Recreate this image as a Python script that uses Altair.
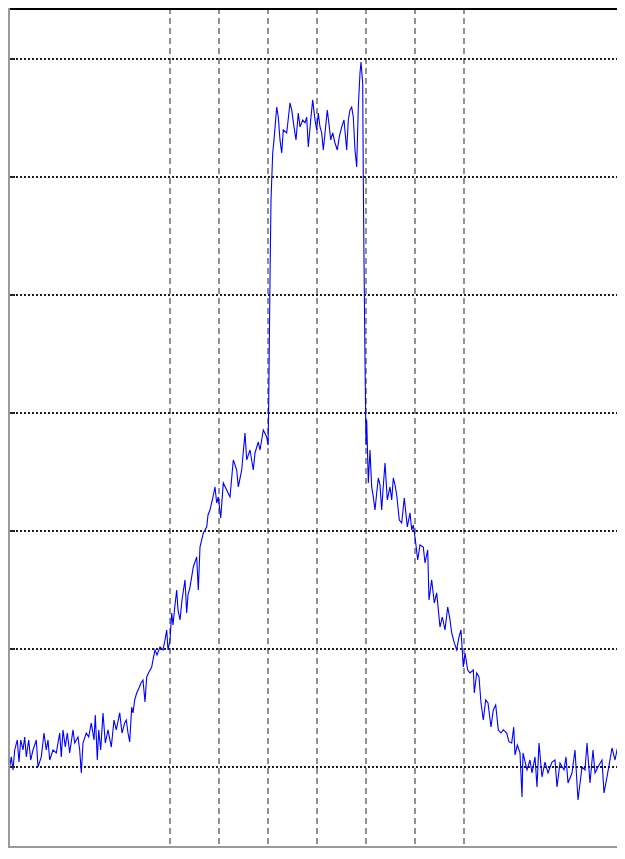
import altair as alt
import pandas as pd

# frequency bin index (x) and level in dB (y)
bins = [0, 1.7, 3.3, 5, 6.7, 9.3, 11, 12.7, 15, 16.7, 18.3, 20.7, 22.7, 25, 28.3, 30, 33.3, 36, 38.3, 40,
        41.7, 45, 48.3, 51.7, 53.3, 55, 57.3, 59.3, 61.7, 65, 66.7, 70, 71.7, 73.3, 75, 78.3, 80.7, 83.3, 86, 87.3,
        89.3, 90.7, 92.7, 95, 97.3, 100, 103.3, 106, 108.3, 111.7, 114, 116.7, 118.3, 120, 121.7, 123.7, 125, 126.7, 128.7, 131,
        133, 135, 137, 138.7, 141, 143.7, 145, 147, 149, 152, 155, 157, 158.7, 160, 162, 163.7, 165, 167, 168.7, 170,
        172, 174, 177, 178.7, 180, 182, 185.3, 188.7, 190.3, 192, 195.3, 198.7, 200, 202, 205, 207, 208.7, 210.3, 212.7, 215.3,
        218.7, 222, 225.3, 228.7, 230.3, 233.7, 237, 238.7, 242, 245.3, 247, 250.3, 252, 255.3, 258.7, 260, 260.5, 262, 263, 264.7,
        266, 268.7, 270.3, 272, 273.7, 275.3, 278.7, 282, 283.7, 286, 288, 290.3, 292, 294.7, 297, 298.7, 300.3, 302.7, 304.7, 307,
        308.7, 310.3, 312, 313.7, 315.3, 317, 319.3, 321.3, 322.7, 324.7, 327, 329.3, 331.3, 333.7, 336, 338.7, 340.3, 342, 343.7, 345.3,
        347, 348.7, 350.3, 352, 353, 354.7, 355.3, 356, 357, 358, 358.7, 359.3, 360.3, 362, 363.7, 365, 367, 368.5, 370.3, 372,
        373.7, 375, 377, 379.3, 382, 383.7, 385.3, 387, 388.7, 391.3, 393.7, 396.3, 399.3, 402, 403.7, 405.3, 407, 409.7, 412, 415.3,
        417, 419.7, 421, 423.7, 426.3, 428.7, 432, 434.3, 437, 439.7, 442, 443.7, 446.3, 448.7, 451, 453, 455.3, 457, 459.7, 462,
        465.3, 466.3, 468.7, 471, 473, 475.3, 477.7, 480, 483, 485.3, 487.7, 490.3, 493, 495.3, 498.7, 501, 503.7, 505.7, 507, 509.3,
        512, 514, 515, 519, 522, 524, 527, 529, 531, 534, 537, 540, 544, 547, 549, 552, 556, 558, 560, 564,
        567, 570, 574, 577, 579, 582, 585, 587, 590, 594, 596, 599, 604, 607, 609, 611, 614, 616]

level_db = [2.29, 0.0, 0.85, -0.25, 1.44, 2.29, 0.42, 2.29, 1.44, 2.54, 0.85, 2.29, 0.59, 1.44, 2.29, 0.0, 0.85, 2.88, 1.44, 2.29,
            0.59, 1.44, 1.19, 2.88, 0.85, 3.14, 1.69, 2.88, 1.19, 3.14, 2.03, 2.54, 1.44, -0.51, 2.03, 2.88, 2.54, 3.73, 2.29, 4.41,
            0.59, 3.14, 1.44, 4.58, 2.03, 3.14, 1.69, 3.98, 3.14, 4.58, 2.88, 3.73, 3.98, 2.88, 2.12, 5.08, 4.58, 5.68, 6.27, 6.69,
            7.12, 7.37, 5.51, 7.63, 8.05, 8.47, 9.07, 9.92, 9.49, 10.17, 9.92, 10.76, 11.61, 9.92, 10.76, 13.05, 12.03, 13.73, 15.0, 13.31,
            12.46, 14.15, 15.85, 13.05, 14.58, 15.25, 16.95, 17.80, 15.0, 18.64, 19.83, 20.34, 21.36, 21.78, 22.88, 23.73, 22.37, 22.88, 21.10, 24.07,
            23.47, 22.88, 26.02, 25.17, 23.73, 25.17, 28.31, 26.02, 26.86, 25.17, 26.61, 27.54, 26.86, 28.56, 27.97, 27.29, 29.41, 41.27, 48.05, 52.03,
            53.14, 55.93, 55.08, 53.14, 52.03, 53.98, 53.73, 56.27, 55.68, 54.24, 53.14, 55.42, 54.24, 54.83, 54.58, 55.08, 52.54, 54.83, 56.53, 54.83,
            53.98, 55.42, 54.24, 53.73, 52.29, 53.73, 55.68, 54.24, 53.14, 53.73, 52.88, 52.29, 53.39, 54.24, 54.83, 52.29, 54.83, 55.68, 55.93, 55.08,
            52.29, 50.85, 55.93, 58.81, 59.75, 57.97, 49.75, 42.97, 34.49, 27.29, 29.41, 27.46, 24.07, 26.86, 23.73, 23.05, 21.78, 23.05, 24.49, 23.90,
            21.78, 23.47, 25.76, 22.63, 23.73, 22.63, 24.49, 23.90, 23.05, 20.93, 20.68, 22.80, 20.34, 21.53, 20.08, 20.51, 19.49, 17.54, 18.81, 18.64,
            17.29, 18.39, 14.15, 15.85, 13.90, 14.75, 11.86, 12.71, 11.61, 13.56, 12.46, 11.36, 10.51, 9.92, 11.02, 11.61, 8.47, 9.66, 8.22, 7.97,
            8.22, 6.27, 7.97, 7.63, 5.42, 3.98, 5.68, 5.42, 3.39, 4.83, 5.25, 3.14, 2.88, 3.14, 2.88, 2.12, 2.03, 3.39, 1.02, 1.86,
            1.19, -2.54, 1.19, -0.25, 0.59, -0.51, 0.85, -1.69, 2.03, -0.85, 0.42, -0.51, 0.42, 0.59, -1.69, 0.34, -0.25, 0.85, -1.36, -0.51,
            1.44, -2.80, 0.0, -0.25, 2.03, -1.36, 1.44, -0.51, 0.0, 0.59, -2.20, -0.85, 1.61, 0.59, 1.44, 2.03, 1.69, 1.19]

grid_db = [0, 10, 20, 30, 40, 50, 60]
grid_bins = [162, 211, 260, 309, 358, 407, 456]

W, H = 609, 840
PX_PER_DB = 11.8
Y_TOP = 64.32
Y_BOT = Y_TOP - H / PX_PER_DB

df = pd.DataFrame({"bin": bins, "level": level_db})
ygrid = pd.DataFrame({"level": grid_db})
xgrid = pd.DataFrame({"bin": grid_bins})
one = pd.DataFrame({"a": [0]})

xs = alt.Scale(domain=[0, W], nice=False, zero=False)
ys = alt.Scale(domain=[Y_BOT, Y_TOP], nice=False, zero=False)

vgrid = alt.Chart(xgrid).mark_rule(color="#6e6e6e", strokeWidth=1.5, strokeDash=[6, 4]).encode(
    x=alt.X("bin:Q", scale=xs, axis=None), y=alt.value(0), y2=alt.value(H))
hgrid = alt.Chart(ygrid).mark_rule(color="#1e1e1e", strokeWidth=2, strokeDash=[2, 2]).encode(
    y=alt.Y("level:Q", scale=ys, axis=None), x=alt.value(0), x2=alt.value(W))

line = alt.Chart(df).mark_line(color="#0000ff", strokeWidth=1.1, clip=True).encode(
    x=alt.X("bin:Q", scale=xs, axis=None),
    y=alt.Y("level:Q", scale=ys, axis=None),
)

left_ticks = alt.Chart(ygrid).mark_rule(color="#222222", strokeWidth=2).encode(
    y=alt.Y("level:Q", scale=ys, axis=None), x=alt.value(0), x2=alt.value(7))

top_border = alt.Chart(one).mark_rule(color="#000000", strokeWidth=2).encode(
    x=alt.value(0), x2=alt.value(W), y=alt.value(1))
left_border = alt.Chart(one).mark_rule(color="#9a9a9a", strokeWidth=2).encode(
    x=alt.value(1), y=alt.value(0), y2=alt.value(H))
bottom_border = alt.Chart(one).mark_rule(color="#9a9a9a", strokeWidth=2).encode(
    x=alt.value(0), x2=alt.value(W), y=alt.value(H - 1))

chart = alt.layer(vgrid, hgrid, line, left_ticks, top_border, left_border, bottom_border).properties(
    width=W, height=H, autosize=alt.AutoSizeParams(type="none"), padding=0, background="white"
).configure_view(stroke=None)

chart.save("out.html", embed_options={"renderer": "svg", "actions": False})
